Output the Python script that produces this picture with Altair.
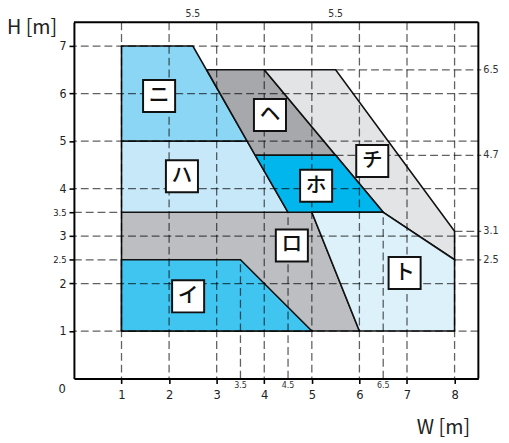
import altair as alt
import pandas as pd

# ---------------- data ----------------
# polygon vertices for each zone (W [m], H [m])
ro_w = [1, 1, 5, 6];            ro_h = [1, 3.5, 3.5, 1]
i_w = [1, 1, 3.5, 5];           i_h = [1, 2.5, 2.5, 1]
ha_w = [1, 1, 3.64, 4.5];       ha_h = [3.5, 5, 5, 3.5]
ni_w = [1, 1, 2.5, 3.64];       ni_h = [5, 7, 7, 5]
he_w = [2.79, 4, 5.5, 3.81];    he_h = [6.5, 6.5, 4.7, 4.7]
chi_w = [4, 5.5, 8, 8, 6.5];    chi_h = [6.5, 6.5, 3.1, 2.5, 3.5]
ho_w = [3.81, 5.5, 6.5, 4.5];   ho_h = [4.7, 4.7, 3.5, 3.5]
to_w = [5, 6.5, 8, 8, 6];       to_h = [3.5, 3.5, 2.5, 1, 1]

zone_order = ["ロ", "イ", "ハ", "ニ", "ヘ", "チ", "ホ", "ト"]
zone_shapes = {
    "ロ": (ro_w, ro_h), "イ": (i_w, i_h), "ハ": (ha_w, ha_h), "ニ": (ni_w, ni_h),
    "ヘ": (he_w, he_h), "チ": (chi_w, chi_h), "ホ": (ho_w, ho_h), "ト": (to_w, to_h),
}
zone_colors = {
    "ロ": "#BDBEC1", "イ": "#40C5F1", "ハ": "#C6E8F8", "ニ": "#8CD6F5",
    "ヘ": "#A7A8AB", "チ": "#E3E4E6", "ホ": "#00B6ED", "ト": "#DDF1FA",
}

# label boxes
label_names = ["イ", "ロ", "ハ", "ニ", "ホ", "ヘ", "ト", "チ"]
label_w = [2.40, 4.58, 2.27, 1.79, 5.09, 4.12, 6.95, 6.27]
label_h = [1.73, 2.80, 4.26, 5.95, 4.06, 5.55, 2.22, 4.58]

# grid
grid_w = [1, 2, 3, 4, 5, 6, 7, 8]
grid_h = [1, 2, 3, 4, 5, 6, 7]
vpart_w = [3.5, 4.5, 6.5]; vpart_top = [2.5, 3.5, 3.5]
hleft_h = [2.5, 3.5];      hleft_end = [1, 1]
hright_h = [6.5, 4.7, 3.1, 2.5]; hright_start = [5.5, 5.5, 8, 8]; hright_end = [8.56, 8.56, 8.56, 8.56]

# tick labels
y_ticks = [1, 2, 2.5, 3, 3.5, 4, 5, 6, 7]
x_ticks = [1, 2, 3, 4, 5, 6, 7, 8]
x_small = [3.5, 4.5, 6.5]; x_small_text = ["3.5", "4.5", "6.5"]
top_w = [2.5, 5.5];        top_text = ["5.5", "5.5"]
right_h = [6.5, 4.7, 3.1, 2.5]; right_text = ["6.5", "4.7", "3.1", "2.5"]

# frame edges (domain limits)
frame_w = [0, 8.5]
frame_h = [0, 7.5]

# ---------------- build ----------------
NUM_FONT = "Liberation Sans Narrow, DejaVu Sans Condensed, Roboto Condensed, Roboto, sans-serif"
JP_FONT = "Noto Sans CJK JP"
xs = alt.Scale(domain=frame_w, nice=False, zero=False)
ys = alt.Scale(domain=frame_h, nice=False, zero=False)

x_axis = alt.Axis(values=x_ticks, format=".1~f", title="W [m]", grid=False,
                  domain=True, domainColor="black", domainWidth=2,
                  tickSize=5, tickWidth=1.6, tickColor="black",
                  labelFont=NUM_FONT, labelFontSize=13, labelPadding=5, labelColor="#222",
                  titleFont=JP_FONT, titleFontSize=20, titleFontWeight="normal", titleColor="#222",
                  titleX=375, titleY=50, titleAlign="center", titleBaseline="middle")
y_axis = alt.Axis(values=y_ticks, format=".1~f", title="H [m]", grid=False,
                  domain=True, domainColor="black", domainWidth=2,
                  tickSize=5, tickWidth=1.6, tickColor="black",
                  labelFont=NUM_FONT, labelPadding=3, labelColor="#222",
                  labelFontSize={"expr": "datum.value == 2.5 || datum.value == 3.5 ? 9.5 : 12.5"},
                  titleFont=JP_FONT, titleFontSize=20, titleFontWeight="normal", titleColor="#222",
                  titleAngle=0, titleX=-43, titleY=5, titleAlign="center", titleBaseline="middle")


def X(field):
    return alt.X(field, scale=xs, axis=x_axis)


def Y(field):
    return alt.Y(field, scale=ys, axis=y_axis)


layers = []
for name in zone_order:
    ws, hs = zone_shapes[name]
    df = pd.DataFrame({"w": ws + ws[:1], "h": hs + hs[:1], "i": list(range(len(ws) + 1))})
    layers.append(
        alt.Chart(df).mark_line(fill=zone_colors[name], stroke="#111", strokeWidth=1.6,
                                strokeJoin="miter", interpolate="linear")
        .encode(x=X("w:Q"), y=Y("h:Q"), order=alt.Order("i:Q"))
    )

dash = dict(stroke="#000", strokeOpacity=0.62, strokeWidth=1.3, strokeDash=[8, 4])

layers.append(alt.Chart(pd.DataFrame({"w": grid_w})).mark_rule(**dash).encode(x=X("w:Q")))
layers.append(alt.Chart(pd.DataFrame({"h": grid_h})).mark_rule(**dash).encode(y=Y("h:Q")))
layers.append(alt.Chart(pd.DataFrame({"w": vpart_w, "h0": [0] * 3, "h1": vpart_top})).mark_rule(**dash)
              .encode(x=X("w:Q"), y=Y("h0:Q"), y2="h1:Q"))
layers.append(alt.Chart(pd.DataFrame({"h": hleft_h, "w0": [0] * 2, "w1": hleft_end})).mark_rule(**dash)
              .encode(y=Y("h:Q"), x=X("w0:Q"), x2="w1:Q"))
layers.append(alt.Chart(pd.DataFrame({"h": hright_h, "w0": hright_start, "w1": hright_end})).mark_rule(**dash)
              .encode(y=Y("h:Q"), x=X("w0:Q"), x2="w1:Q"))

lab = pd.DataFrame({"w": label_w, "h": label_h, "t": label_names})
layers.append(alt.Chart(lab).mark_square(size=1060, fill="white", stroke="#111", strokeWidth=2, opacity=1)
              .encode(x=X("w:Q"), y=Y("h:Q")))
layers.append(alt.Chart(lab).mark_text(font=JP_FONT, fontSize=21, fontWeight=500, color="#111",
                                       baseline="middle", align="center")
              .encode(x=X("w:Q"), y=Y("h:Q"), text="t:N"))

# extra numeric labels
layers.append(alt.Chart(pd.DataFrame({"w": x_small, "t": x_small_text}))
              .mark_text(font=NUM_FONT, fontSize=9, color="#333", baseline="top", align="center", dy=3)
              .encode(x=X("w:Q"), y=alt.value("height"), text="t:N"))
layers.append(alt.Chart(pd.DataFrame({"w": top_w, "t": top_text}))
              .mark_text(font=NUM_FONT, fontSize=10.5, color="#333", baseline="middle", align="center", dy=-8)
              .encode(x=X("w:Q"), y=alt.value(0), text="t:N"))
layers.append(alt.Chart(pd.DataFrame({"h": right_h, "t": right_text}))
              .mark_text(font=NUM_FONT, fontSize=11, color="#333", baseline="middle", align="left", dx=5)
              .encode(y=Y("h:Q"), x=alt.value("width"), text="t:N"))
layers.append(alt.Chart(pd.DataFrame({"t": ["0"]}))
              .mark_text(font=NUM_FONT, fontSize=13, color="#222", baseline="middle", align="center", dx=-12, dy=11)
              .encode(x=alt.value(0), y=alt.value("height"), text="t:N"))

# top and right frame edges
layers.append(alt.Chart(pd.DataFrame({"w0": [frame_w[0]], "w1": [frame_w[1]], "h": [frame_h[1]]}))
              .mark_rule(stroke="black", strokeWidth=2)
              .encode(x=X("w0:Q"), x2="w1:Q", y=Y("h:Q")))
layers.append(alt.Chart(pd.DataFrame({"h0": [frame_h[0]], "h1": [frame_h[1]], "w": [frame_w[1]]}))
              .mark_rule(stroke="black", strokeWidth=2)
              .encode(y=Y("h0:Q"), y2="h1:Q", x=X("w:Q")))

chart = (
    alt.layer(*layers)
    .properties(width=411, height=362, autosize=alt.AutoSizeParams(type="none"),
                padding={"left": 67, "top": 11, "right": 23, "bottom": 62},
                background="white")
    .configure_view(strokeWidth=0)
)

chart.save("out.html", embed_options={"renderer": "svg", "actions": False})
